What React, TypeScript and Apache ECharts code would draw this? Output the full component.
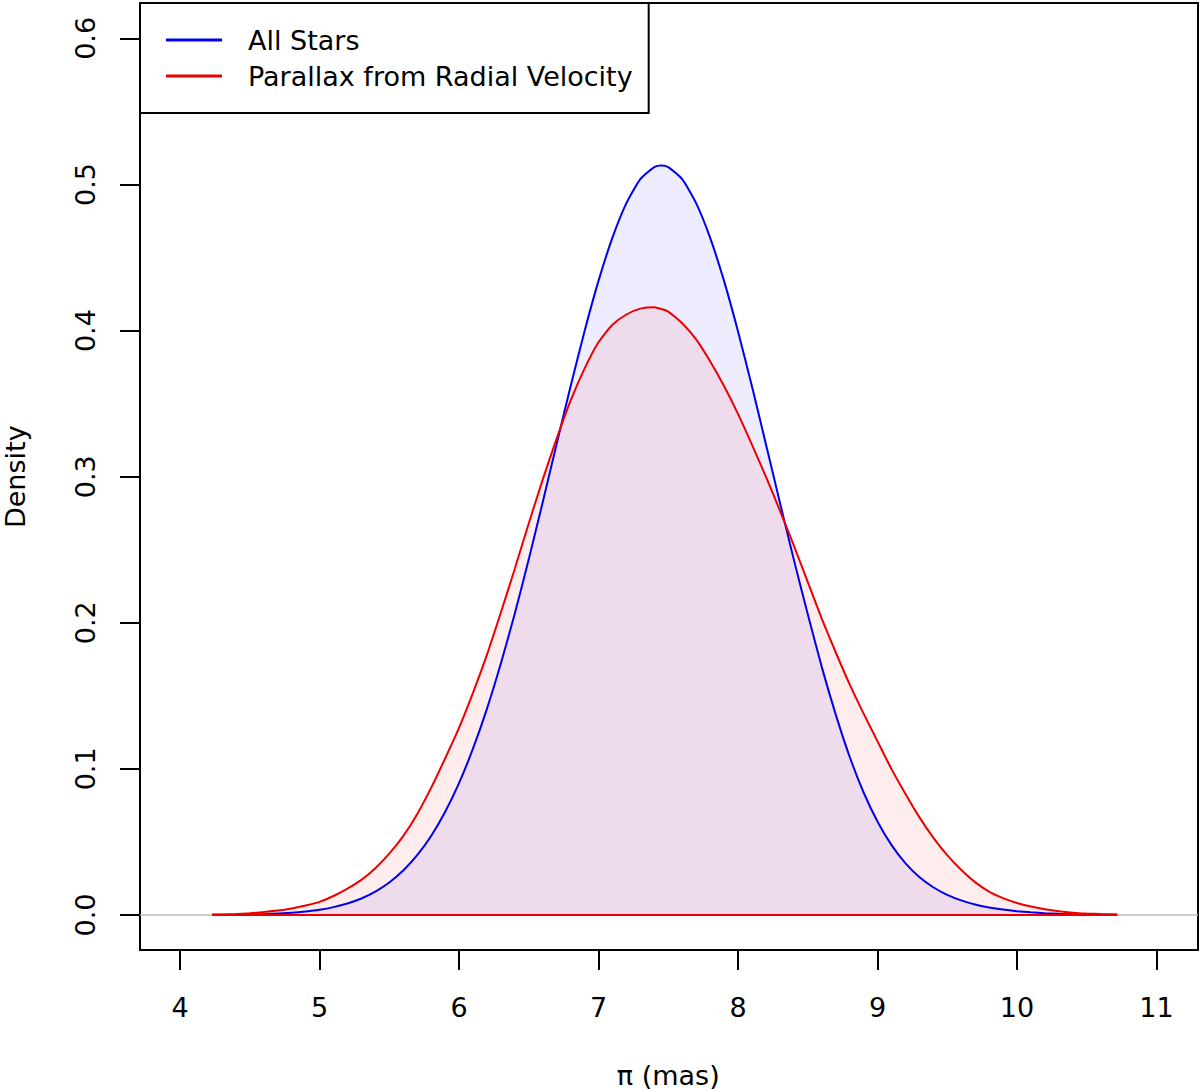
import React, { useEffect, useRef } from "react";
import * as echarts from "echarts";

// parallax grid (mas)
const xs = [
  4.23, 4.3, 4.4, 4.5, 4.6, 4.7, 4.8, 4.9,
  5.0, 5.1, 5.2, 5.3, 5.4, 5.5, 5.6, 5.7, 5.8, 5.9,
  6.0, 6.1, 6.2, 6.3, 6.4, 6.5, 6.6, 6.7, 6.8, 6.9,
  7.0, 7.1, 7.2, 7.3, 7.4, 7.45, 7.5, 7.6, 7.7, 7.8, 7.9,
  8.0, 8.1, 8.2, 8.3, 8.4, 8.5, 8.6, 8.7, 8.8, 8.9,
  9.0, 9.1, 9.2, 9.3, 9.4, 9.5, 9.6, 9.7, 9.8, 9.9,
  10.0, 10.1, 10.2, 10.3, 10.4, 10.5, 10.6, 10.72,
];
// density, all stars
const allStars = [
  0.0001, 0.00014, 0.0002, 0.0004, 0.0006, 0.001, 0.0015, 0.0024,
  0.0036, 0.0054, 0.0079, 0.0113, 0.016, 0.0222, 0.0304, 0.0409, 0.0541, 0.0705,
  0.0903, 0.1138, 0.1411, 0.1721, 0.2063, 0.2434, 0.2825, 0.3224, 0.3619, 0.3996,
  0.434, 0.4636, 0.4872, 0.5036, 0.5119, 0.513, 0.5119, 0.5036, 0.4872, 0.4636, 0.434,
  0.3996, 0.3619, 0.3224, 0.2825, 0.2434, 0.206, 0.17, 0.1375, 0.1085, 0.084,
  0.064, 0.048, 0.0355, 0.026, 0.019, 0.0138, 0.01, 0.0072, 0.0052, 0.0037,
  0.0026, 0.0018, 0.0012, 0.0008, 0.0005, 0.0003, 0.0002, 0.0001,
];
// density, parallax from radial velocity
const radialVelocity = [
  0.0003, 0.0004, 0.0007, 0.0012, 0.002, 0.003, 0.0045, 0.0065,
  0.009, 0.013, 0.018, 0.024, 0.032, 0.042, 0.054, 0.069, 0.087, 0.107,
  0.128, 0.152, 0.178, 0.207, 0.237, 0.268, 0.298, 0.326, 0.352, 0.374,
  0.392, 0.404, 0.411, 0.415, 0.416, 0.4148, 0.413, 0.405, 0.394, 0.379, 0.362,
  0.343, 0.322, 0.3, 0.277, 0.253, 0.228, 0.203, 0.18, 0.158, 0.138,
  0.119, 0.1, 0.083, 0.067, 0.053, 0.041, 0.031, 0.0225, 0.016, 0.0115,
  0.0082, 0.0058, 0.004, 0.0026, 0.0016, 0.001, 0.0006, 0.0003,
];

const seriesNames = ["All Stars", "Parallax from Radial Velocity"];
const xTickMin = 4;
const xTickMax = 11;
const yTickMin = 0;
const yTickMax = 0.6;

export default function App() {
  const ref = useRef<HTMLDivElement>(null);
  useEffect(() => {
    const chart = echarts.init(ref.current!, null, { renderer: "svg" });
    const font = "'DejaVu Sans', 'Liberation Sans', Arial, sans-serif";
    const fs = 27;
    const blue = "#0000ee";
    const red = "#ee0000";
    const blueData = xs.map((x, i) => [x, allStars[i]]);
    const redData = xs.map((x, i) => [x, radialVelocity[i]]);
    const baseData = [
      [xs[0], 0],
      [xs[xs.length - 1], 0],
    ];
    chart.setOption({
      animation: false,
      backgroundColor: "#ffffff",
      textStyle: { fontFamily: font },
      grid: [
        {
          left: 140,
          top: 3,
          right: 2,
          bottom: 141,
          show: true,
          borderColor: "#000",
          borderWidth: 2,
          backgroundColor: "transparent",
          outerBoundsMode: "none",
          containLabel: false,
        },
        {
          left: 180,
          top: 38.4,
          width: 976.5,
          height: 876.6,
          outerBoundsMode: "none",
          containLabel: false,
        },
      ],
      xAxis: [
        { gridIndex: 0, type: "value", min: 3.713, max: 11.298, show: false },
        {
          gridIndex: 1,
          type: "value",
          min: xTickMin,
          max: xTickMax,
          interval: 1,
          position: "bottom",
          offset: 35,
          axisLine: { show: true, onZero: false, lineStyle: { color: "#000", width: 2 } },
          axisTick: { show: true, length: 20, lineStyle: { color: "#000", width: 2 } },
          axisLabel: { color: "#000", fontSize: fs, margin: 43.5, fontFamily: font },
          splitLine: { show: false },
          name: "π (mas)",
          nameLocation: "middle",
          nameGap: 111.5,
          nameTextStyle: { color: "#000", fontSize: fs, fontFamily: font },
        },
      ],
      yAxis: [
        { gridIndex: 0, type: "value", min: -0.02396, max: 0.6242, show: false },
        {
          gridIndex: 1,
          type: "value",
          min: yTickMin,
          max: yTickMax,
          interval: 0.1,
          position: "left",
          offset: 40,
          axisLine: { show: true, onZero: false, lineStyle: { color: "#000", width: 2 } },
          axisTick: { show: true, length: 20, lineStyle: { color: "#000", width: 2 } },
          axisLabel: {
            color: "#000",
            fontSize: fs,
            margin: 41.5,
            rotate: 90,
            fontFamily: font,
            formatter: (v: number) => v.toFixed(1),
          },
          splitLine: { show: false },
          name: "Density",
          nameLocation: "middle",
          nameGap: 111,
          nameRotate: 90,
          nameTextStyle: { color: "#000", fontSize: fs, fontFamily: font },
        },
      ],
      legend: {
        data: seriesNames,
        orient: "vertical",
        left: 140,
        top: 3,
        padding: [23.5, 16, 23.5, 26],
        itemGap: 9,
        itemWidth: 56,
        itemHeight: 3,
        icon: "rect",
        borderColor: "#000",
        borderWidth: 2,
        borderRadius: 0,
        backgroundColor: "#fff",
        selectedMode: false,
        textStyle: { fontSize: fs, color: "#000", fontFamily: font, padding: [0, 0, 0, 21] },
      },
      series: [
        {
          name: seriesNames[0],
          type: "line",
          xAxisIndex: 0,
          yAxisIndex: 0,
          data: blueData,
          symbol: "none",
          showSymbol: false,
          smooth: 0.2,
          z: 2,
          lineStyle: { color: blue, width: 2 },
          itemStyle: { color: blue },
          areaStyle: { color: "rgba(0,0,255,0.1)" },
          markLine: {
            silent: true,
            symbol: "none",
            label: { show: false },
            lineStyle: { color: "#bebebe", width: 1.5, type: "solid" },
            data: [{ yAxis: 0 }],
          },
        },
        {
          name: seriesNames[1],
          type: "line",
          xAxisIndex: 0,
          yAxisIndex: 0,
          data: redData,
          symbol: "none",
          showSymbol: false,
          smooth: 0.2,
          z: 2,
          lineStyle: { color: red, width: 2 },
          itemStyle: { color: red },
          areaStyle: { color: "rgba(255,0,0,0.1)" },
        },
        {
          name: "baseline",
          type: "line",
          xAxisIndex: 0,
          yAxisIndex: 0,
          data: baseData,
          symbol: "none",
          showSymbol: false,
          z: 5,
          lineStyle: { color: red, width: 2 },
          itemStyle: { color: red },
        },
      ],
    });
    return () => chart.dispose();
  }, []);
  return (
    <div
      ref={ref}
      style={{ position: "fixed", left: 0, top: 0, width: 1200, height: 1091, background: "#fff" }}
    />
  );
}
